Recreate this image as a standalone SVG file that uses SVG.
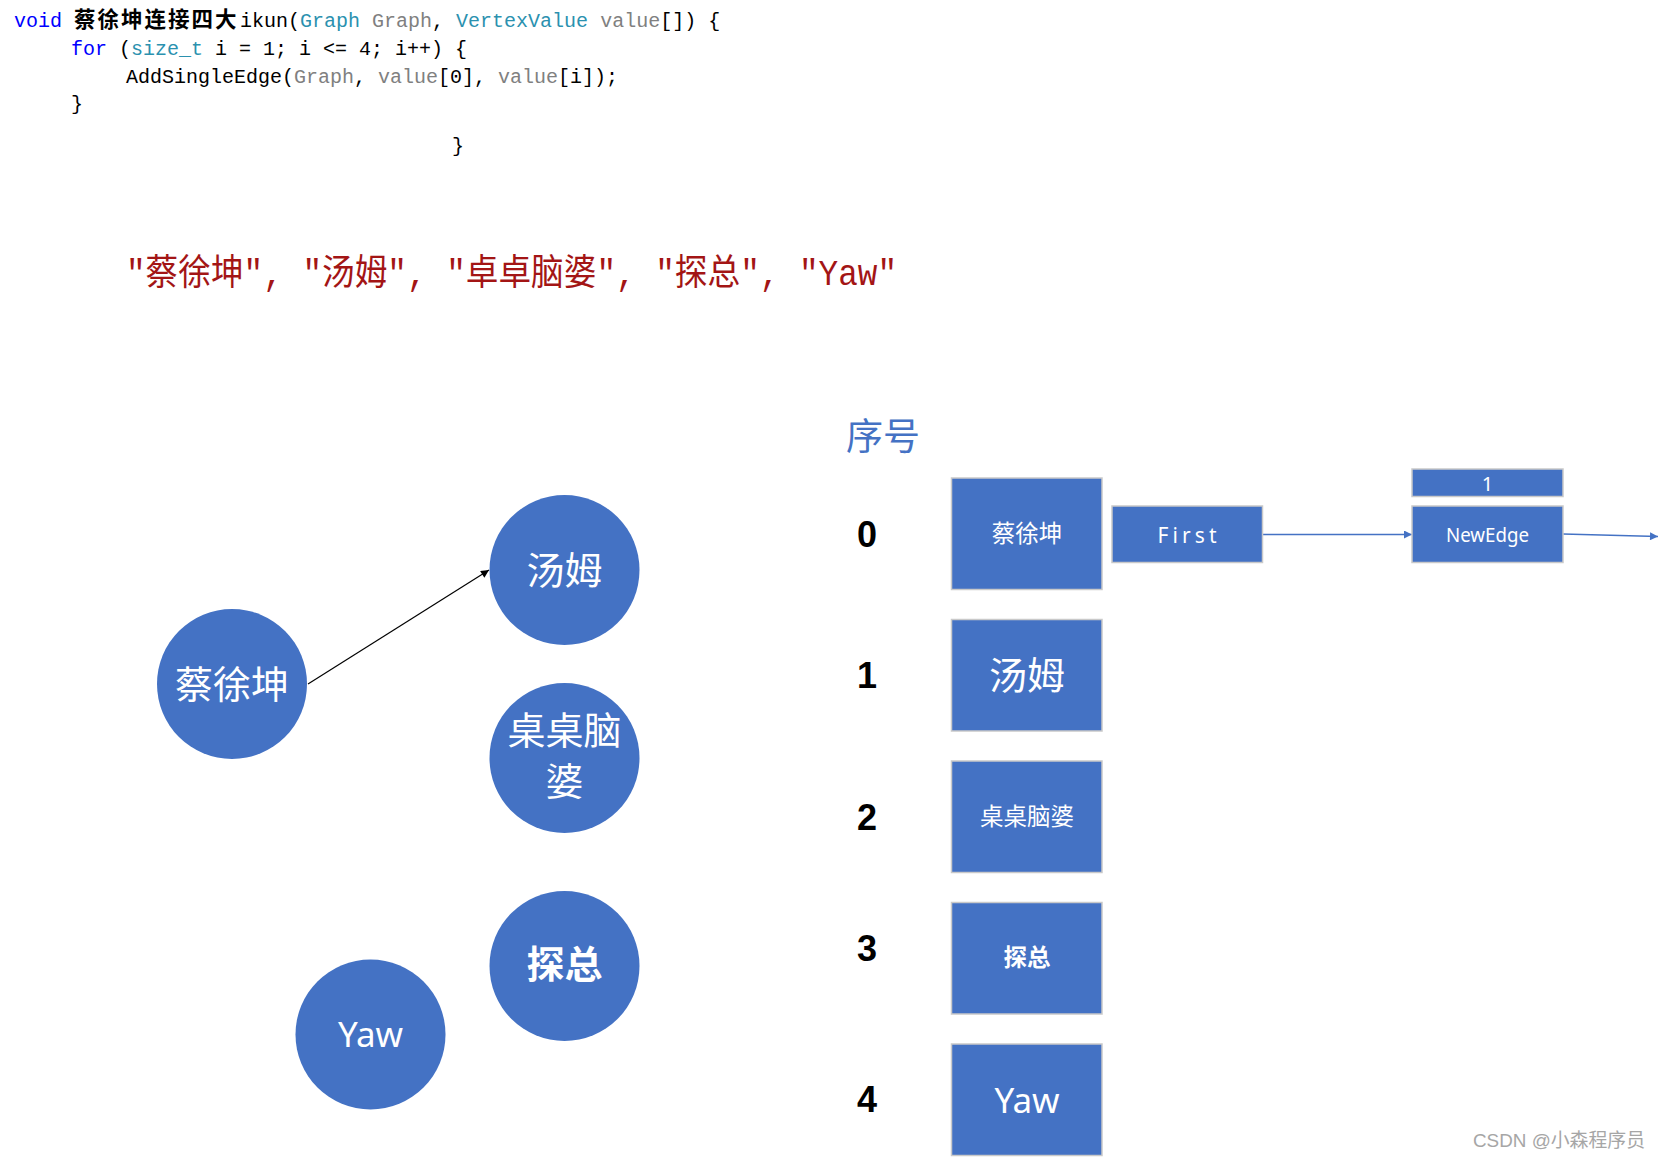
<svg xmlns="http://www.w3.org/2000/svg" width="1660" height="1158" viewBox="0 0 1660 1158">
<style>
  .code { font-family: "Liberation Mono", "Noto Sans CJK SC", monospace; font-size: 20px; fill: #000; }
  .cjkcode { font-family: "Noto Sans CJK SC", sans-serif; font-size: 21.5px; font-weight: bold; letter-spacing: 2px; fill: #000; }
  .kw { fill: #0000FF; }
  .ty { fill: #2B91AF; }
  .pm { fill: #808080; }
  .circ { fill: #4472C4; }
  .box { fill: #4472C4; stroke: #C9C9C9; stroke-width: 1.5; }
  .ctext { font-family: "Noto Sans CJK SC", sans-serif; fill: #fff; text-anchor: middle; dominant-baseline: central; }
  .ltext { font-family: "Noto Sans", "Open Sans", sans-serif; fill: #fff; text-anchor: middle; dominant-baseline: central; }
  .num { font-family: "Liberation Sans", Arial, sans-serif; font-weight: bold; font-size: 36px; fill: #000; text-anchor: middle; dominant-baseline: central; }
  .edge { stroke: #000; stroke-width: 1.2; fill: none; }
  .bedge { stroke: #4472C4; stroke-width: 1.5; fill: none; }
</style>
<defs>
  <marker id="ah" viewBox="0 0 10 10" refX="10" refY="5" markerWidth="10" markerHeight="8" markerUnits="userSpaceOnUse" orient="auto">
    <path d="M0,0 L10,5 L0,10 Z" fill="#000"/>
  </marker>
  <marker id="bh" viewBox="0 0 10 10" refX="10" refY="5" markerWidth="9" markerHeight="8" markerUnits="userSpaceOnUse" orient="auto">
    <path d="M0,0 L10,5 L0,10 Z" fill="#4472C4"/>
  </marker>
</defs>
<rect width="1660" height="1158" fill="#fff"/>

<g id="code">
  <text class="code" x="14" y="27" xml:space="preserve"><tspan class="kw">void</tspan></text>
  <text class="cjkcode" x="74" y="27">蔡徐坤连接四大</text>
  <text class="code" x="240" y="27" xml:space="preserve">ikun(<tspan class="ty">Graph</tspan> <tspan class="pm">Graph</tspan>, <tspan class="ty">VertexValue</tspan> <tspan class="pm">value</tspan>[]) {</text>
  <text class="code" x="71" y="55" xml:space="preserve"><tspan class="kw">for</tspan> (<tspan class="ty">size_t</tspan> i = 1; i &lt;= 4; i++) {</text>
  <text class="code" x="126" y="83" xml:space="preserve">AddSingleEdge(<tspan class="pm">Graph</tspan>, <tspan class="pm">value</tspan>[0], <tspan class="pm">value</tspan>[i]);</text>
  <text class="code" x="71" y="110">}</text>
  <text class="code" x="452" y="152">}</text>
</g>

<g id="values">
  <text x="126" y="285" textLength="771" lengthAdjust="spacingAndGlyphs" font-family="'Liberation Mono', 'Noto Sans CJK SC', monospace" font-size="36" fill="#A31515" xml:space="preserve">"蔡徐坤", "汤姆", "卓卓脑婆", "探总", "Yaw"</text>
</g>

<g id="connectors">
  <line class="edge" x1="308" y1="684" x2="489" y2="570" marker-end="url(#ah)"/>
  <line class="bedge" x1="1263" y1="534.5" x2="1412" y2="534.5" marker-end="url(#bh)"/>
  <line class="bedge" x1="1563" y1="534" x2="1658" y2="536.5" marker-end="url(#bh)"/>
</g>

<g id="node-caixukun">
  <circle class="circ" cx="232" cy="684" r="75"/>
  <text class="ctext" x="232" y="681" font-size="38">蔡徐坤</text>
</g>
<g id="node-tangmu">
  <circle class="circ" cx="564.5" cy="570" r="75"/>
  <text class="ctext" x="564.5" y="567" font-size="38">汤姆</text>
</g>
<g id="node-zhuozhuo">
  <circle class="circ" cx="564.5" cy="758" r="75"/>
  <text class="ctext" x="564.5" y="727" font-size="38">桌桌脑</text>
  <text class="ctext" x="564.5" y="778" font-size="38">婆</text>
</g>
<g id="node-tanzong">
  <circle class="circ" cx="564.5" cy="966" r="75"/>
  <text class="ctext" x="564.5" y="961" font-size="38" font-weight="bold">探总</text>
</g>
<g id="node-yaw">
  <circle class="circ" cx="370.5" cy="1034.5" r="75"/>
  <text class="ltext" x="370.5" y="1033" font-size="35">Yaw</text>
</g>

<g id="title">
  <text x="846" y="450" font-family="'Noto Sans CJK SC', sans-serif" font-size="37" fill="#4472C4">序号</text>
</g>

<g id="idx-0"><text class="num" x="867" y="534">0</text></g>
<g id="idx-1"><text class="num" x="867" y="675">1</text></g>
<g id="idx-2"><text class="num" x="867" y="817">2</text></g>
<g id="idx-3"><text class="num" x="867" y="948">3</text></g>
<g id="idx-4"><text class="num" x="867" y="1099">4</text></g>

<g id="vertex-0">
  <rect class="box" x="951.5" y="478" width="150.5" height="111.5"/>
  <text class="ctext" x="1027" y="532" font-size="23.5">蔡徐坤</text>
</g>
<g id="vertex-1">
  <rect class="box" x="951.5" y="619.5" width="150.5" height="111.5"/>
  <text class="ctext" x="1027" y="672" font-size="38">汤姆</text>
</g>
<g id="vertex-2">
  <rect class="box" x="951.5" y="761" width="150.5" height="111.5"/>
  <text class="ctext" x="1027" y="815" font-size="23.5">桌桌脑婆</text>
</g>
<g id="vertex-3">
  <rect class="box" x="951.5" y="902.5" width="150.5" height="111.5"/>
  <text class="ctext" x="1027" y="956" font-size="23.5" font-weight="bold">探总</text>
</g>
<g id="vertex-4">
  <rect class="box" x="951.5" y="1044" width="150.5" height="111.5"/>
  <text class="ltext" x="1027" y="1099" font-size="35">Yaw</text>
</g>

<g id="first">
  <rect class="box" x="1112" y="506" width="150.5" height="56.5"/>
  <text class="ltext" x="1187" y="534.5" font-size="21" textLength="59" lengthAdjust="spacing">First</text>
</g>
<g id="edge-weight">
  <rect class="box" x="1412" y="469" width="151" height="27.5"/>
  <text class="ltext" x="1487.5" y="483" font-size="20">1</text>
</g>
<g id="newedge">
  <rect class="box" x="1412" y="506" width="151" height="56.5"/>
  <text class="ltext" x="1487.5" y="534.5" font-size="20" textLength="83" lengthAdjust="spacingAndGlyphs">NewEdge</text>
</g>

<g id="watermark">
  <text x="1473" y="1147" font-family="'Liberation Sans', 'Noto Sans CJK SC', sans-serif" font-size="19" fill="#A6A6A6" textLength="172" lengthAdjust="spacingAndGlyphs">CSDN @小森程序员</text>
</g>
</svg>
